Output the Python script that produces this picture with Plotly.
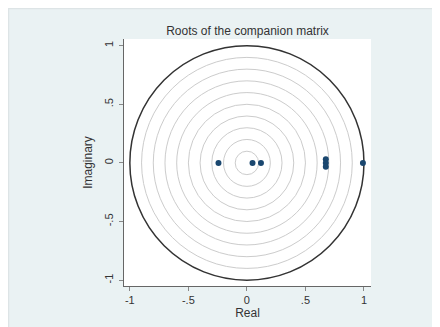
import plotly.graph_objects as go

# Roots (real, imaginary)
root_real = [-0.243, 0.048, 0.120, 0.674, 0.674, 0.674, 0.991]
root_imag = [0.0, 0.0, 0.0, 0.032, 0.0, -0.032, 0.0]

# Reference circles
grid_radii = [0.1, 0.2, 0.3, 0.4, 0.5, 0.6, 0.7, 0.8, 0.9]
unit_radius = 1.0

tick_vals = [-1, -0.5, 0, 0.5, 1]
tick_text = ["-1", "-.5", "0", ".5", "1"]

W, H = 432, 319
L, T = 116, 31
pw, ph = 247, 247
R, B = W - L - pw, H - T - ph

fig = go.Figure()

shapes = []
# faint outline of graph region
shapes.append(dict(type="rect", xref="paper", yref="paper", layer="below",
                   x0=(0.5 - L) / pw, x1=(W - L + 2) / pw,
                   y0=-(B + 2) / ph, y1=(ph + T - 0.5) / ph,
                   fillcolor="rgba(0,0,0,0)", line=dict(color="#dde4e6", width=1.5)))
for r in grid_radii:
    shapes.append(dict(type="circle", xref="x", yref="y", x0=-r, x1=r, y0=-r, y1=r,
                       line=dict(color="#cccccc", width=1), layer="below"))
shapes.append(dict(type="circle", xref="x", yref="y", x0=-unit_radius, x1=unit_radius,
                   y0=-unit_radius, y1=unit_radius,
                   line=dict(color="#333333", width=1.5), layer="below"))

fig.add_trace(go.Scatter(x=root_real, y=root_imag, mode="markers",
                         marker=dict(color="#1a476f", size=6),
                         showlegend=False, hoverinfo="x+y"))

font_fam = "Liberation Sans, Arial, sans-serif"
axis_common = dict(tickmode="array", tickvals=tick_vals, ticktext=tick_text,
                   ticks="outside", ticklen=4, tickcolor="#888888",
                   showline=True, linecolor="#666666", linewidth=1,
                   showgrid=False, zeroline=False, automargin=False,
                   tickfont=dict(size=11, color="#333333", family=font_fam))

fig.update_layout(
    template="none",
    width=W, height=H,
    margin=dict(l=L, r=R, t=T, b=B),
    paper_bgcolor="#eaf2f3", plot_bgcolor="white",
    shapes=shapes,
    title=dict(text="Roots of the companion matrix", x=(L + pw / 2) / W, xanchor="center",
               y=1 - 23 / H, yanchor="middle",
               font=dict(size=12, color="#333333", family=font_fam)),
    xaxis=dict(range=[-1.05, 1.06], title=dict(text="Real", standoff=2,
               font=dict(size=12, color="#333333", family=font_fam)), **axis_common),
    yaxis=dict(range=[-1.05, 1.057], tickangle=-90, ticklabelstandoff=2,
               title=dict(text="Imaginary", standoff=7,
                          font=dict(size=12, color="#333333", family=font_fam)),
               **axis_common),
)

fig.write_html("out.html")
